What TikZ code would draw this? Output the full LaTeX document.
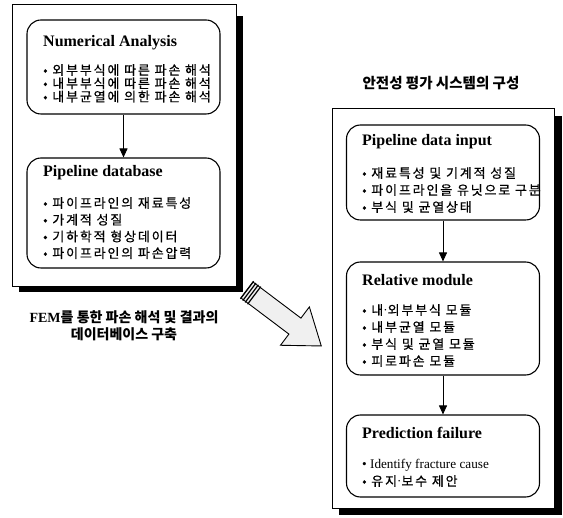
\documentclass[tikz,border=0pt]{standalone}
\usepackage{fontspec}
\setmainfont{Liberation Serif}
\newfontfamily\kr{Noto Sans CJK KR}
\newfontfamily\krw[LetterSpace=14, FakeBold=0.6]{Noto Sans CJK KR}
\usetikzlibrary{arrows.meta}

\tikzset{
  panel/.style={draw, fill=white, line width=0.8pt},
  modbox/.style={draw, rounded corners=14pt, line width=1.1pt, minimum width=193pt, inner sep=0pt},
  boxtitle/.style={anchor=west, inner sep=0pt, font=\fontsize{16}{18}\selectfont\bfseries},
  bul/.style={anchor=west, inner sep=0pt, font=\krw\fontsize{13}{15}\selectfont},
  capt/.style={inner sep=0pt, font=\kr\bfseries\fontsize{14}{16}\selectfont},
  flow/.style={-{Triangle[length=9pt,width=8pt]}, line width=0.9pt},
}
\newcommand{\mdot}{{\rmfamily\textperiodcentered}}

\begin{document}
\begin{tikzpicture}[x=1pt, y=-1pt]
    \useasboundingbox (0,0) rectangle (563,518);
    % left panel
    \fill (19,16) rectangle (243,292);
    \draw[panel] (12,4) rectangle (236,286);
    \node[modbox, minimum height=94pt] (na) at (123.5,67) {};
    \node[modbox, minimum height=110pt] (db) at (123.5,213) {};
    \node[boxtitle] (natitle) at (43,43) {Numerical Analysis};
    \foreach \t [count=\i] in {외부부식에 따른 파손 해석, 내부부식에 따른 파손 해석, 내부균열에 의한 파손 해석}
        \node[bul] (na\i) at (43,56.7+13.3*\i) {• \t};
    \node[boxtitle] (dbtitle) at (43,173) {Pipeline database};
    \foreach \t [count=\i] in {파이프라인의 재료특성, 가계적 성질, 기하학적 형상데이터, 파이프라인의 파손압력}
        \node[bul] (db\i) at (43,186.3+16.7*\i) {• \t};
    \draw[flow] (na) -- (db);
    \node[capt] (cap1) at (124,317) {{\rmfamily FEM}를 통한 파손 해석 및 결과의};
    \node[capt] (cap2) at (124,334) {데이터베이스 구축};

    % big arrow
    \begin{scope}[shift={(247,290)}, rotate=-37]
        \draw[fill=gray!12, line width=0.9pt] (0,-10) -- (60,-10) -- (60,-24) -- (93,0)
            -- (60,24) -- (60,10) -- (0,10) -- cycle;
        \foreach \s in {0,3,6,9}
            \draw[line width=1.2pt] (\s,-11) -- (\s,11);
    \end{scope}

    % right panel
    \node[capt, font=\kr\bfseries\fontsize{14.5}{16}\selectfont] (rtitle) at (441,83) {안전성 평가 시스템의 구성};
    \fill (339,116) rectangle (562,515);
    \draw[panel] (332,108) rectangle (554,508);
    \node[modbox, minimum height=95pt] (inp) at (443,172.5) {};
    \node[modbox, minimum height=113pt] (rel) at (443,318.5) {};
    \node[modbox, minimum height=82pt] (pre) at (443,456) {};
    \node[boxtitle] (inptitle) at (362,142) {Pipeline data input};
    \foreach \t [count=\i] in {재료특성 및 기계적 성질, 파이프라인을 유닛으로 구분, 부식 및 균열상태}
        \node[bul] (inp\i) at (362,156+17*\i) {• \t};
    \node[boxtitle] (reltitle) at (362,280) {Relative module};
    \foreach \t [count=\i] in {내\mdot 외부부식 모듈, 내부균열 모듈, 부식 및 균열 모듈, 피로파손 모듈}
        \node[bul] (rel\i) at (362,293+17*\i) {• \t};
    \node[boxtitle] (pretitle) at (362,433) {Prediction failure};
    \node[bul, font=\fontsize{13.2}{15}\selectfont] (pre1) at (362,465) {• Identify fracture cause};
    \node[bul] (pre2) at (362,481) {• 유지\mdot 보수 제안};
    \draw[flow] (inp) -- (rel);
    \draw[flow] (rel) -- (pre);
\end{tikzpicture}
\end{document}
